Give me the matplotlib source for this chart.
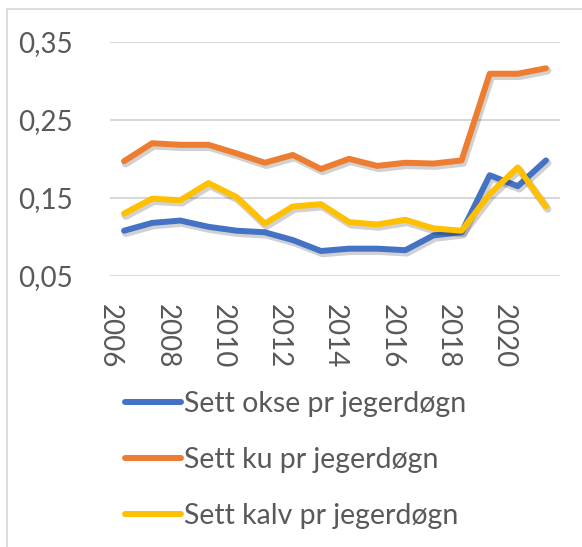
import matplotlib
matplotlib.use("Agg")
import matplotlib.pyplot as plt
import matplotlib.patheffects as pe
from matplotlib.patches import Rectangle
from matplotlib.ticker import FuncFormatter
import matplotlib.transforms as mtransforms

years = list(range(2006, 2022))
okse = [0.108, 0.118, 0.121, 0.113, 0.108, 0.106, 0.096, 0.082, 0.085, 0.085, 0.083, 0.102, 0.106, 0.179, 0.165, 0.198]
ku = [0.197, 0.220, 0.218, 0.218, 0.207, 0.195, 0.205, 0.187, 0.200, 0.191, 0.195, 0.194, 0.198, 0.309, 0.309, 0.316]
kalv = [0.130, 0.149, 0.147, 0.169, 0.151, 0.117, 0.139, 0.142, 0.119, 0.116, 0.122, 0.111, 0.108, 0.155, 0.189, 0.139]
labels = ["Sett okse pr jegerdøgn", "Sett ku pr jegerdøgn", "Sett kalv pr jegerdøgn"]
colors = ["#4472C4", "#ED7D31", "#FFC000"]
yticks = [0.05, 0.15, 0.25, 0.35]

plt.rcParams['font.family'] = ['Lato', 'DejaVu Sans']
W, H = 582, 547
fig = plt.figure(figsize=(W/100, H/100), dpi=100)
ax = fig.add_axes([110/W, 1-276/H, 450/W, (276-41.7)/H])

shadow = [pe.SimpleLineShadow(offset=(1.2, -1.8), shadow_color='#000000', alpha=0.18, linewidth=5.5), pe.Normal()]
for vals, lab, c in zip([okse, ku, kalv], labels, colors):
    ax.plot(years, vals, color=c, lw=4.3, label=lab, solid_capstyle='round',
            solid_joinstyle='round', path_effects=shadow)

ax.set_xlim(years[0]-0.5, years[-1]+0.5)
ax.set_ylim(0.05, 0.35)
ax.set_yticks(yticks)
ax.yaxis.set_major_formatter(FuncFormatter(lambda v, p: f"{v:.2f}".replace('.', ',')))
ax.grid(axis='y', color='#D9D9D9', lw=1.5)
ax.set_axisbelow(True)
for s in ax.spines.values():
    s.set_visible(False)
ax.tick_params(axis='both', length=0, labelsize=20, labelcolor='#595959')
ax.tick_params(axis='y', pad=27)
ax.tick_params(axis='x', pad=20)
ax.set_xticks(years[::2])
ax.set_xticklabels([str(y) for y in years[::2]], rotation=270, va='top', ha='center')
off = mtransforms.ScaledTranslation(-14/100, 0, fig.dpi_scale_trans)
for t in ax.get_xticklabels():
    t.set_transform(t.get_transform() + off)

leg = fig.legend(loc='upper left', bbox_to_anchor=(125/W, 1-391/H), frameon=False,
                 fontsize=20.5, handlelength=1.95, handletextpad=0.12, labelspacing=1.05,
                 borderpad=0, borderaxespad=0)
for t in leg.get_texts():
    t.set_color('#595959')
for l in leg.get_lines():
    l.set_path_effects([])
    l.set_linewidth(4.3)

fig.add_artist(Rectangle((7/W, -0.02), 1.0, (547-9)/H + 0.02, transform=fig.transFigure,
                         fill=False, ec='#D9D9D9', lw=1.3))
fig.savefig("out.png", dpi=100)
